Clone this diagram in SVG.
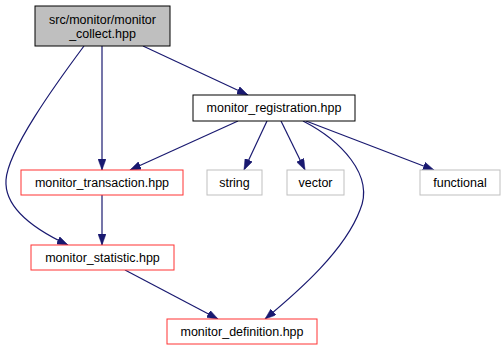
<svg xmlns="http://www.w3.org/2000/svg" width="504" height="351" viewBox="0 0 504 351">
  <style>
    text { font-family: "Liberation Sans", Arial, Helvetica, sans-serif; font-size: 12.5px; fill: #000; text-anchor: middle; }
    .edge { fill: none; stroke: #191970; stroke-width: 1.2; }
    .main { fill: #bfbfbf; stroke: #000; stroke-width: 1; }
    .dep { fill: #fff; stroke: #000; stroke-width: 1; }
    .red { fill: #fff; stroke: #ff3333; stroke-width: 1; }
    .sys { fill: #fff; stroke: #bfbfbf; stroke-width: 1; }
  </style>
  <defs>
    <marker id="arrow" viewBox="0 0 11 8" refX="11" refY="4" markerWidth="11" markerHeight="8" markerUnits="userSpaceOnUse" orient="auto">
      <path d="M0,0 L11,4 L0,8 Z" fill="#191970" stroke="#191970" stroke-width="0.5"/>
    </marker>
  </defs>

  <g id="edges">
    <path class="edge" marker-end="url(#arrow)" d="M143,46 L248,95"/>
    <path class="edge" marker-end="url(#arrow)" d="M102,46 L102,170"/>
    <path class="edge" marker-end="url(#arrow)" d="M84,46 C55,85 8,150 6,180 C4,210 40,232 68,245"/>
    <path class="edge" marker-end="url(#arrow)" d="M238,121 L130,170"/>
    <path class="edge" marker-end="url(#arrow)" d="M267,121 L244,170"/>
    <path class="edge" marker-end="url(#arrow)" d="M281,121 L305,170"/>
    <path class="edge" marker-end="url(#arrow)" d="M303,121 C340,140 375,175 360,210 C345,250 300,290 265,319"/>
    <path class="edge" marker-end="url(#arrow)" d="M306,121 L434,170"/>
    <path class="edge" marker-end="url(#arrow)" d="M102,195 L102,245"/>
    <path class="edge" marker-end="url(#arrow)" d="M125,270 L218,319"/>
  </g>

  <g id="node_monitor_collect">
    <rect class="main" x="35" y="6" width="135" height="40"/>
    <text x="102.5" y="24">src/monitor/monitor</text>
    <text x="102.5" y="38">_collect.hpp</text>
  </g>
  <g id="node_monitor_registration">
    <rect class="dep" x="193" y="95" width="162" height="26"/>
    <text x="274" y="112">monitor_registration.hpp</text>
  </g>
  <g id="node_monitor_transaction">
    <rect class="red" x="21" y="170" width="162" height="25"/>
    <text x="102" y="187">monitor_transaction.hpp</text>
  </g>
  <g id="node_string">
    <rect class="sys" x="207" y="170" width="55" height="25"/>
    <text x="234.5" y="187">string</text>
  </g>
  <g id="node_vector">
    <rect class="sys" x="287" y="170" width="57" height="25"/>
    <text x="315.5" y="187">vector</text>
  </g>
  <g id="node_functional">
    <rect class="sys" x="420" y="170" width="80" height="25"/>
    <text x="460" y="187">functional</text>
  </g>
  <g id="node_monitor_statistic">
    <rect class="red" x="31" y="245" width="143" height="25"/>
    <text x="102.5" y="262">monitor_statistic.hpp</text>
  </g>
  <g id="node_monitor_definition">
    <rect class="red" x="167" y="319" width="150" height="25"/>
    <text x="242" y="336">monitor_definition.hpp</text>
  </g>
</svg>
